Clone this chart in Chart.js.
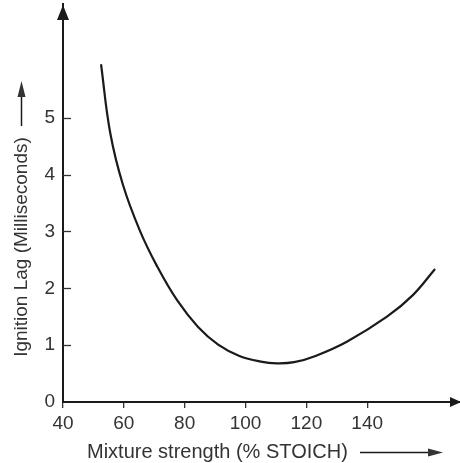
<!DOCTYPE html>
<html>
<head>
<meta charset="utf-8">
<script src="https://cdn.jsdelivr.net/npm/chart.js@4"></script>
<style>
  html, body { margin: 0; padding: 0; background: #fff; }
  #wrap { width: 460px; height: 463px; position: relative; }
</style>
</head>
<body>
<div id="wrap"><canvas id="c" width="460" height="463"></canvas></div>
<script>
// Mixture strength (% stoichiometric)
const mixtureStrength = [52.5, 55.5, 59.7, 65.3, 70.9, 77.5, 84.4, 91, 98, 105, 110.3, 116, 123, 133.3, 146.5, 155, 162.3];
// Ignition lag (milliseconds)
const ignitionLag = [5.94, 4.74, 3.82, 3.01, 2.39, 1.79, 1.32, 1.01, 0.81, 0.71, 0.68, 0.70, 0.81, 1.06, 1.50, 1.88, 2.34];
const xTickValues = [40, 60, 80, 100, 120, 140];
const yTickValues = [0, 1, 2, 3, 4, 5];
const xTitle = "Mixture strength (% STOICH)";
const yTitle = "Ignition Lag (Milliseconds)";

const FONT = "'Liberation Sans', Arial, sans-serif";
const INK = '#1a1a1a';

const decor = {
  id: 'decor',
  afterDraw(chart) {
    const ctx = chart.ctx;
    const xs = chart.scales.x, ys = chart.scales.y;
    const left = xs.getPixelForValue(xs.min);
    const bottom = ys.getPixelForValue(0);
    const top = ys.getPixelForValue(ys.max);
    const right = xs.getPixelForValue(xs.max);
    ctx.save();
    // inward y ticks
    ctx.strokeStyle = '#333';
    ctx.lineWidth = 1.3;
    yTickValues.forEach(v => {
      if (v === 0) return;
      const py = Math.round(ys.getPixelForValue(v)) + 0.5;
      ctx.beginPath();
      ctx.moveTo(left, py);
      ctx.lineTo(left + 8, py);
      ctx.stroke();
    });
    // axis arrowheads
    ctx.fillStyle = INK;
    ctx.beginPath();
    ctx.moveTo(left, top + 1);
    ctx.lineTo(left - 6, top + 16);
    ctx.lineTo(left + 6, top + 16);
    ctx.closePath();
    ctx.fill();
    ctx.beginPath();
    ctx.moveTo(right + 1, bottom);
    ctx.lineTo(right - 10, bottom - 5);
    ctx.lineTo(right - 10, bottom + 5);
    ctx.closePath();
    ctx.fill();

    // x title with arrow
    ctx.fillStyle = '#333';
    ctx.font = '20px ' + FONT;
    ctx.textBaseline = 'middle';
    ctx.textAlign = 'left';
    ctx.fillText(xTitle, 87, 452);
    ctx.strokeStyle = INK;
    ctx.lineWidth = 1.5;
    ctx.beginPath();
    ctx.moveTo(360, 452.5);
    ctx.lineTo(432, 452.5);
    ctx.stroke();
    ctx.beginPath();
    ctx.moveTo(443, 452.5);
    ctx.lineTo(428, 448.5);
    ctx.lineTo(428, 456.5);
    ctx.closePath();
    ctx.fill();

    // y title with arrow
    ctx.save();
    ctx.translate(22, 247);
    ctx.rotate(-Math.PI / 2);
    ctx.textAlign = 'center';
    ctx.font = '19px ' + FONT;
    ctx.fillText(yTitle, 0, 0);
    ctx.restore();
    ctx.beginPath();
    ctx.moveTo(21.5, 126);
    ctx.lineTo(21.5, 92);
    ctx.stroke();
    ctx.beginPath();
    ctx.moveTo(21.5, 81);
    ctx.lineTo(17.5, 97);
    ctx.lineTo(25.5, 97);
    ctx.closePath();
    ctx.fill();
    ctx.restore();
  }
};

new Chart(document.getElementById('c'), {
  type: 'scatter',
  data: {
    datasets: [{
      data: mixtureStrength.map((x, i) => ({ x: x, y: ignitionLag[i] })),
      showLine: true,
      borderColor: INK,
      borderWidth: 2.2,
      pointRadius: 0,
      tension: 0.4,
      fill: false
    }]
  },
  options: {
    responsive: false,
    animation: false,
    devicePixelRatio: 1,
    layout: { padding: { top: 4, right: 0, left: 0, bottom: 0 } },
    plugins: { legend: { display: false }, tooltip: { enabled: false } },
    scales: {
      x: {
        type: 'linear',
        min: 40,
        max: 170.5,
        afterBuildTicks: s => { s.ticks = xTickValues.map(v => ({ value: v })); },
        afterFit: s => { s.height = 61; s.paddingLeft = 0; s.paddingRight = 0; },
        grid: { drawOnChartArea: false, drawTicks: true, tickLength: 6, color: '#333', lineWidth: 1.3 },
        border: { display: true, color: INK, width: 2 },
        ticks: { font: { family: FONT, size: 19 }, color: '#333', padding: 4, maxRotation: 0, autoSkip: false }
      },
      y: {
        type: 'linear',
        min: 0,
        max: 7,
        afterBuildTicks: s => { s.ticks = yTickValues.map(v => ({ value: v })); },
        afterFit: s => { s.width = 63; s.paddingTop = 0; s.paddingBottom = 0; },
        grid: { drawOnChartArea: false, drawTicks: false },
        border: { display: true, color: INK, width: 2 },
        ticks: { font: { family: FONT, size: 19 }, color: '#333', padding: 8, autoSkip: false }
      }
    }
  },
  plugins: [decor]
});
</script>
</body>
</html>
